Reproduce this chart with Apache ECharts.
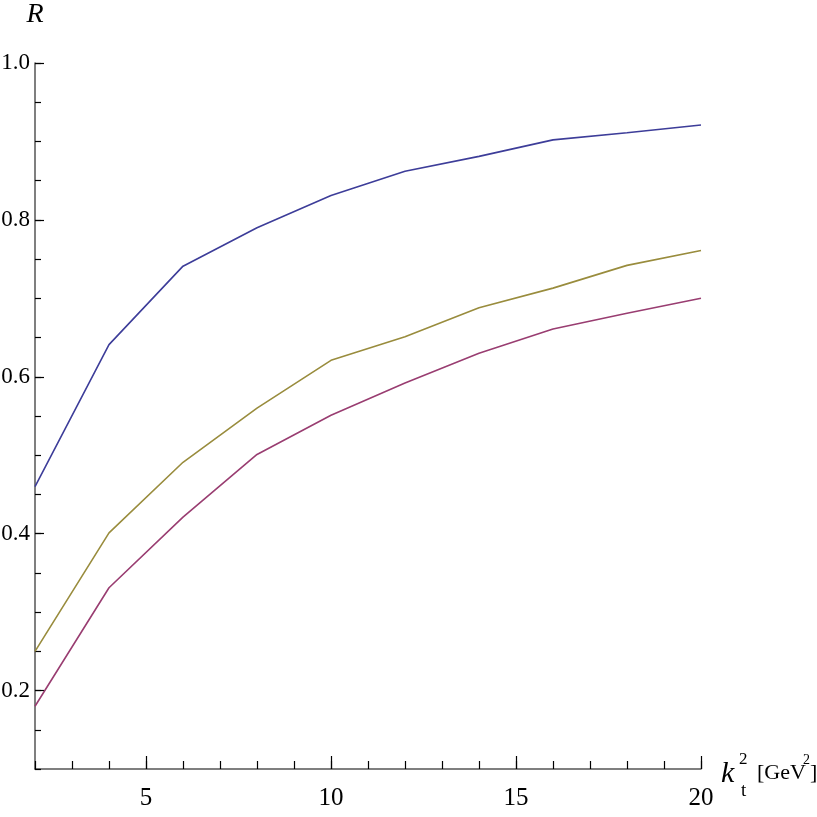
<!DOCTYPE html>
<html>
<head>
<meta charset="utf-8">
<script src="https://cdn.jsdelivr.net/npm/echarts@6/dist/echarts.min.js"></script>
<style>
  html, body { margin: 0; padding: 0; background: #fff; }
  #chart { width: 817px; height: 817px; }
</style>
</head>
<body>
<div id="chart"></div>
<script>
  // k_t^2 values (GeV^2)
  const kt2 = [2, 4, 6, 8, 10, 12, 14, 16, 18, 20]
  const blueR = [0.46, 0.641, 0.741, 0.79, 0.831, 0.862, 0.881, 0.902, 0.911, 0.921]
  const oliveR = [0.25, 0.401, 0.491, 0.56, 0.621, 0.651, 0.688, 0.713, 0.742, 0.761]
  const magentaR = [0.18, 0.331, 0.421, 0.501, 0.551, 0.592, 0.63, 0.661, 0.681, 0.70]
  const yLabels = [0.2, 0.4, 0.6, 0.8, 1.0]
  const xLabels = [5, 10, 15, 20]

  const serif = 'Liberation Serif'
  const pairs = (ys) => kt2.map((x, i) => [x, ys[i]])

  const chart = echarts.init(document.getElementById('chart'))

  const lineStyle = { color: '#555', width: 1.5 }

  chart.setOption({
    animation: false,
    grid: { left: 35, right: 116, top: 63, bottom: 48, containLabel: false, outerBoundsMode: 'none' },
    xAxis: [
      {
        type: 'value',
        min: 2,
        max: 20,
        interval: 1,
        axisLine: { lineStyle: lineStyle },
        axisTick: { inside: true, length: 8, lineStyle: { color: '#000', width: 1.2 } },
        axisLabel: { show: false },
        splitLine: { show: false }
      },
      {
        type: 'value',
        position: 'bottom',
        min: 2,
        max: 20,
        axisLine: { show: false },
        axisTick: { inside: true, length: 13, customValues: xLabels, lineStyle: { color: '#000', width: 1.2 } },
        axisLabel: {
          customValues: xLabels,
          margin: 17,
          color: '#000',
          fontFamily: serif,
          fontSize: 25
        },
        splitLine: { show: false }
      }
    ],
    yAxis: [
      {
        type: 'value',
        min: 0.1,
        max: 1.0,
        interval: 0.05,
        name: 'R',
        nameLocation: 'end',
        nameGap: 34,
        nameTextStyle: { fontFamily: serif, fontStyle: 'italic', fontSize: 28, color: '#000' },
        axisLine: { lineStyle: lineStyle },
        axisTick: { inside: true, length: 6, lineStyle: { color: '#000', width: 1.2 } },
        axisLabel: { show: false },
        splitLine: { show: false }
      },
      {
        type: 'value',
        position: 'left',
        min: 0.1,
        max: 1.0,
        axisLine: { show: false },
        axisTick: { inside: true, length: 9, customValues: yLabels, lineStyle: { color: '#000', width: 1.2 } },
        axisLabel: {
          customValues: yLabels,
          margin: 5,
          color: '#000',
          fontFamily: serif,
          fontSize: 23,
          formatter: (v) => v.toFixed(1)
        },
        splitLine: { show: false }
      }
    ],
    series: [
      {
        type: 'line',
        data: pairs(blueR),
        showSymbol: false,
        lineStyle: { color: '#3d3d99', width: 1.6 }
      },
      {
        type: 'line',
        data: pairs(oliveR),
        showSymbol: false,
        lineStyle: { color: '#998c3d', width: 1.6 }
      },
      {
        type: 'line',
        data: pairs(magentaR),
        showSymbol: false,
        lineStyle: { color: '#993d71', width: 1.6 }
      }
    ],
    graphic: [
      { type: 'text', left: 721, top: 759, style: { text: 'k', font: 'italic 30px "Liberation Serif"', fill: '#000' } },
      { type: 'text', left: 739, top: 751, style: { text: '2', font: '17px "Liberation Serif"', fill: '#000' } },
      { type: 'text', left: 741, top: 782, style: { text: 't', font: '19px "Liberation Serif"', fill: '#000' } },
      { type: 'text', left: 757, top: 762, style: { text: '[GeV', font: '22px "Liberation Serif"', fill: '#000' } },
      { type: 'text', left: 803, top: 753, style: { text: '2', font: '14px "Liberation Serif"', fill: '#000' } },
      { type: 'text', left: 810, top: 762, style: { text: ']', font: '22px "Liberation Serif"', fill: '#000' } }
    ]
  })
</script>
</body>
</html>
